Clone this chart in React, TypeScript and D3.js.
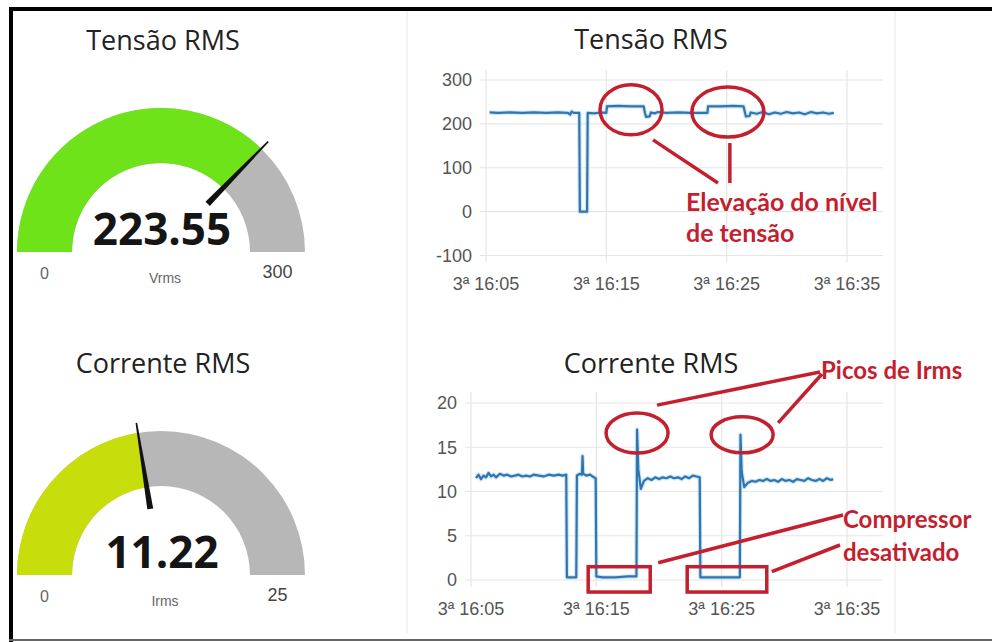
import React from 'react';
import * as d3 from 'd3';

// minutes after 16:00 on the 3rd
const at = (min: number) => new Date(2021, 2, 3, 16, 0, Math.round(min * 60));

const gaugeTitles = ['Tensão RMS', 'Corrente RMS'];
const gaugeValues = [223.55, 11.22];
const gaugeMaxima = [300, 25];
const gaugeUnits = ['Vrms', 'Irms'];

const chartTitles = ['Tensão RMS', 'Corrente RMS'];
const xTickMinutes = [5, 15, 25, 35];
const voltTicks = [-100, 0, 100, 200, 300];
const currTicks = [0, 5, 10, 15, 20];

const voltMinutes = [
  5.3, 6, 7, 8, 9, 10, 11, 11.8, 12.0, 12.1, 12.3, 12.75, 12.8, 13.4, 13.45, 14.0, 14.5, 15.0,
  15.05, 16, 17, 18.1, 18.2, 18.3, 18.6, 18.7, 19, 19.3, 20, 21, 22, 23, 23.4, 23.45, 24.5, 25.5,
  26.4, 26.5, 26.6, 26.9, 27.0, 27.5, 28, 28.5, 29, 29.5, 30, 30.5, 31, 31.5, 32, 32.5, 33, 33.5, 33.9,
];
const voltValues = [
  226, 225, 226, 225, 226, 225, 226, 225, 221, 228, 225, 225, 0, 0, 225, 224, 226, 225,
  240, 241, 240, 240, 226, 216, 217, 226, 224, 227, 225, 226, 225, 225, 225, 240, 240, 241,
  240, 228, 217, 218, 226, 223, 227, 222, 226, 223, 227, 224, 226, 222, 227, 224, 226, 223, 225,
];

const currMinutes = [
  5.4, 5.6, 5.8, 6.0, 6.2, 6.4, 6.6, 6.8, 7.0, 7.3, 7.6, 7.9, 8.2, 8.5, 8.8, 9.1, 9.4, 9.7, 10.0,
  10.4, 10.8, 11.2, 11.6, 12.0, 12.3, 12.6, 12.65, 13.4, 13.45, 13.7, 13.85, 13.9, 13.95, 14.2,
  14.5, 14.8, 14.95, 15.0, 15.5, 16.5, 17.5, 18.2, 18.25, 18.35, 18.55, 18.8, 19.1, 19.4, 19.7,
  20.0, 20.3, 20.6, 20.9, 21.2, 21.5, 21.8, 22.1, 22.4, 22.7, 23.0, 23.25, 23.3, 24.5, 25.5, 26.45,
  26.5, 26.6, 26.8, 27.1, 27.4, 27.7, 28.0, 28.3, 28.6, 28.9, 29.2, 29.5, 29.8, 30.1, 30.4, 30.7,
  31.0, 31.3, 31.6, 31.9, 32.2, 32.5, 32.8, 33.1, 33.4, 33.7, 33.9,
];
const currValues = [
  11.5, 11.9, 11.4, 11.8, 11.6, 12.1, 11.7, 11.9, 11.6, 12.0, 11.8, 11.9, 11.7, 11.8, 11.9, 11.7, 11.8, 11.7, 11.9,
  11.8, 11.7, 11.9, 11.8, 11.9, 11.8, 11.9, 0.3, 0.3, 11.8, 12.0, 11.9, 14.0, 12.0, 11.8,
  11.9, 11.6, 11.5, 0.4, 0.3, 0.3, 0.4, 0.4, 17.0, 12.5, 10.3, 11.2, 11.5, 11.3, 11.6,
  11.4, 11.6, 11.5, 11.7, 11.5, 11.6, 11.4, 11.7, 11.5, 11.8, 11.7, 11.6, 0.3, 0.3, 0.3, 0.3,
  16.4, 12.2, 10.5, 11.0, 11.2, 11.1, 11.3, 11.2, 11.4, 11.2, 11.3, 11.1, 11.4, 11.2, 11.3, 11.1,
  11.4, 11.3, 11.2, 11.5, 11.3, 11.2, 11.4, 11.2, 11.5, 11.3, 11.4,
];

const RED = '#c41f2e';
const LINE = '#2c76b1';
const fmt = d3.timeFormat('3ª %H:%M');

function Gauge({ cx, cy, titleY, title, value, max, unit, color }: any) {
  const ang = d3.scaleLinear().domain([0, max]).range([-Math.PI / 2, Math.PI / 2]);
  const arc = d3.arc().innerRadius(89).outerRadius(144);
  const back = arc({ startAngle: ang(0), endAngle: ang(max) } as any) as string;
  const front = arc({ startAngle: ang(0), endAngle: ang(value) } as any) as string;
  const a = ang(value);
  const ux = Math.sin(a), uy = -Math.cos(a);
  const px = -uy, py = ux;
  const r0 = 67, r1 = 154, w0 = 3, w1 = 0.8;
  const needle = d3.path();
  needle.moveTo(ux * r0 + px * w0, uy * r0 + py * w0);
  needle.lineTo(ux * r1 + px * w1, uy * r1 + py * w1);
  needle.lineTo(ux * r1 - px * w1, uy * r1 - py * w1);
  needle.lineTo(ux * r0 - px * w0, uy * r0 - py * w0);
  needle.closePath();
  const bandMid = (89 + 144) / 2;
  return (
    <g>
      <text x={cx + 2} y={titleY} textAnchor="middle" fontFamily="'Open Sans', sans-serif" fontSize={27} fill="#222">{title}</text>
      <g transform={`translate(${cx},${cy})`}>
        <path d={back} fill="#b7b7b7" />
        <path d={front} fill={color} />
        <path d={needle.toString()} fill="#111" />
        <text x={1} y={-7} textAnchor="middle" fontFamily="'Open Sans', sans-serif" fontWeight={700} fontSize={44} fill="#151515">{value.toFixed(2)}</text>
        <text x={-bandMid} y={27} textAnchor="middle" fontFamily="'Liberation Sans', Arial, sans-serif" fontSize={16} fill="#666">0</text>
        <text x={bandMid} y={26} textAnchor="middle" fontFamily="'Liberation Sans', Arial, sans-serif" fontSize={18} fill="#444">{max}</text>
        <text x={4} y={31} textAnchor="middle" fontFamily="'Liberation Sans', Arial, sans-serif" fontSize={14} fill="#666">{unit}</text>
      </g>
    </g>
  );
}

function LineChart({ title, titleY, x, y, ticks, minutes, values, top, bottom }: any) {
  const [x0] = x.range();
  const right = 883;
  const line = d3.line<number>().x((_, i) => x(at(minutes[i]))).y((v) => y(v));
  const d = line(values) as string;
  return (
    <g>
      <text x={651} y={titleY} textAnchor="middle" fontFamily="'Open Sans', sans-serif" fontSize={27} fill="#222">{title}</text>
      {ticks.map((t: number) => (
        <g key={'y' + t}>
          <line x1={x0 - 6} x2={right} y1={y(t)} y2={y(t)} stroke="#e6e6e6" strokeWidth={1.2} />
          <text x={x0 - 14} y={y(t)} dy="0.36em" textAnchor="end" fontFamily="'Liberation Sans', Arial, sans-serif" fontSize={18} fill="#555">{t}</text>
        </g>
      ))}
      {xTickMinutes.map((m) => (
        <g key={'x' + m}>
          <line x1={x(at(m))} x2={x(at(m))} y1={top} y2={bottom + 6} stroke="#e6e6e6" strokeWidth={1.2} />
          <text x={x(at(m))} y={bottom + 34} textAnchor="middle" fontFamily="'Liberation Sans', Arial, sans-serif" fontSize={18} fill="#555">{fmt(at(m))}</text>
        </g>
      ))}
      <path d={d} fill="none" stroke="#a8cbe6" strokeWidth={4.5} strokeOpacity={0.5} strokeLinejoin="round" />
      <path d={d} fill="none" stroke={LINE} strokeWidth={2.2} strokeLinejoin="round" />
    </g>
  );
}

export default function App() {
  const xTop = d3.scaleTime().domain([at(5), at(35)]).range([486, 847]);
  const yTop = d3.scaleLinear().domain([-100, 300]).range([255.5, 80]);
  const xBot = d3.scaleTime().domain([at(5), at(35)]).range([471, 847]);
  const yBot = d3.scaleLinear().domain([0, 20]).range([580, 403]);

  // annotation anchors, in data space
  const e1 = [xTop(at(17.05)), yTop(232)];
  const e2 = [xTop(at(25.1)), yTop(227)];
  const p1 = [xBot(at(18.25)), yBot(16.6)];
  const p2 = [xBot(at(26.63)), yBot(16.4)];
  const rA = [xBot(at(14.35)), xBot(at(19.3)), yBot(1.5), yBot(-1.36)];
  const rB = [xBot(at(22.25)), xBot(at(28.6)), yBot(1.5), yBot(-1.36)];
  const red = { stroke: RED, strokeWidth: 3.5, fill: 'none' };
  const redText = { fontFamily: "Lato, 'Open Sans', sans-serif", fontWeight: 700, fill: RED } as any;

  return (
    <svg width={992} height={642} style={{ position: 'absolute', left: 0, top: 0, background: '#fff' }}>
      <rect x={0} y={0} width={992} height={642} fill="#fff" />
      {/* panels */}
      <line x1={407} x2={407} y1={11} y2={633} stroke="#efefef" strokeWidth={1.5} />
      <line x1={895} x2={895} y1={11} y2={633} stroke="#efefef" strokeWidth={1.5} />
      <rect x={9} y={7} width={983} height={4} fill="#000" />
      <rect x={9} y={7} width={4} height={635} fill="#000" />
      <rect x={9} y={639} width={983} height={2} fill="#666" />

      <Gauge cx={161} cy={252} titleY={50} title={gaugeTitles[0]} value={gaugeValues[0]} max={gaugeMaxima[0]} unit={gaugeUnits[0]} color="#6fe31a" />
      <Gauge cx={161} cy={575} titleY={373} title={gaugeTitles[1]} value={gaugeValues[1]} max={gaugeMaxima[1]} unit={gaugeUnits[1]} color="#c8dd0c" />

      <LineChart title={chartTitles[0]} titleY={49} x={xTop} y={yTop} ticks={voltTicks} minutes={voltMinutes} values={voltValues} top={70} bottom={256} />
      <LineChart title={chartTitles[1]} titleY={373} x={xBot} y={yBot} ticks={currTicks} minutes={currMinutes} values={currValues} top={392} bottom={581} />

      {/* top annotations */}
      <ellipse cx={e1[0]} cy={e1[1]} rx={31} ry={25} {...red} />
      <ellipse cx={e2[0]} cy={e2[1]} rx={36} ry={25} {...red} />
      <line x1={e1[0] + 22} y1={e1[1] + 30} x2={718} y2={183} {...red} />
      <line x1={e2[0] + 2} y1={e2[1] + 31} x2={e2[0] + 2} y2={183} {...red} />
      <text x={686} y={211} fontSize={25} {...redText}>Elevação do nível</text>
      <text x={686} y={242} fontSize={25} {...redText}>de tensão</text>

      {/* bottom annotations */}
      <ellipse cx={p1[0]} cy={p1[1]} rx={31} ry={20} {...red} />
      <ellipse cx={p2[0]} cy={p2[1]} rx={31} ry={18} {...red} />
      <line x1={p1[0] + 20} y1={p1[1] - 28} x2={820} y2={372} {...red} />
      <line x1={p2[0] + 36} y1={p2[1] - 12} x2={822} y2={374} {...red} />
      <text x={821} y={379} fontSize={24} {...redText}>Picos de Irms</text>
      <rect x={rA[0]} y={rA[2]} width={rA[1] - rA[0]} height={rA[3] - rA[2]} {...red} />
      <rect x={rB[0]} y={rB[2]} width={rB[1] - rB[0]} height={rB[3] - rB[2]} {...red} />
      <line x1={rA[1] + 8} y1={rA[2] - 4} x2={843} y2={515} {...red} />
      <line x1={rB[1] + 5} y1={rB[2] + 5} x2={840} y2={545} {...red} />
      <text x={843} y={528} fontSize={24} {...redText}>Compressor</text>
      <text x={843} y={561} fontSize={24} {...redText}>desativado</text>
    </svg>
  );
}
